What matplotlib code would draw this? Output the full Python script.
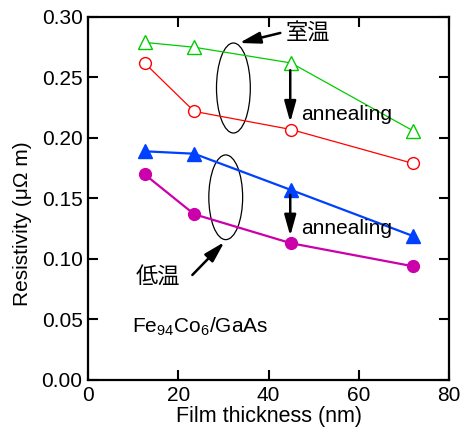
import matplotlib.pyplot as plt
from matplotlib.patches import Ellipse

plt.rcParams['font.family'] = ['Liberation Sans', 'Noto Sans CJK JP', 'DejaVu Sans']
plt.rcParams['mathtext.fontset'] = 'custom'
plt.rcParams['mathtext.rm'] = 'Liberation Sans'

# data
thickness = [12.5, 23.5, 45, 72]
rt_asdep = [0.279, 0.275, 0.262, 0.206]     # 室温, green open triangles
rt_anneal = [0.262, 0.222, 0.207, 0.179]    # 室温 annealed, red open circles
lt_asdep = [0.189, 0.187, 0.157, 0.119]     # 低温, blue filled triangles
lt_anneal = [0.170, 0.137, 0.113, 0.094]    # 低温 annealed, magenta filled circles

xticks = [0, 20, 40, 60, 80]
yticks = [0.00, 0.05, 0.10, 0.15, 0.20, 0.25, 0.30]

fig = plt.figure(figsize=(4.64, 4.4), dpi=100)
ax = fig.add_axes([0.19, 0.1364, 0.7777, 0.825])

ax.plot(thickness, rt_asdep, '-^', color='#00cc00', lw=0.9, ms=10,
        mfc='white', mec='#00cc00', mew=1.0)
ax.plot(thickness, rt_anneal, '-o', color='#ff0000', lw=0.9, ms=8.5,
        mfc='white', mec='#ff0000', mew=1.0)
ax.plot(thickness, lt_asdep, '-^', color='#0040ff', lw=1.6, ms=10)
ax.plot(thickness, lt_anneal, '-o', color='#cc00aa', lw=1.6, ms=8.5)

ax.set_xlim(0, 80)
ax.set_ylim(0, 0.30)
ax.set_xticks(xticks)
ax.set_yticks(yticks)
ax.set_yticklabels(['%.2f' % v for v in yticks])
ax.tick_params(direction='in', length=7, width=1.5, labelsize=15,
               top=True, right=True, pad=4)
for s in ax.spines.values():
    s.set_linewidth(1.6)

ax.set_xlabel('Film thickness (nm)', fontsize=15.5, labelpad=1)
ax.set_ylabel('Resistivity (\u03bc\u03a9 m)', fontsize=15, labelpad=1)
ax.yaxis.set_label_coords(-0.155, 0.43)

# ellipses grouping the pairs
ax.add_patch(Ellipse((32.2, 0.2413), 7.5, 0.0744, fill=False, lw=0.9, ec='black'))
ax.add_patch(Ellipse((30.5, 0.151), 7.5, 0.070, fill=False, lw=0.9, ec='black'))

arr = dict(arrowstyle='-|>,head_length=0.9,head_width=0.25', color='black',
           lw=1.8, mutation_scale=14, shrinkA=0, shrinkB=0)
ax.annotate('', xy=(33.5, 0.2785), xytext=(42.6, 0.2868), arrowprops=arr)
ax.text(43.8, 0.2868, '室温', fontsize=16, va='center', ha='left')
ax.annotate('', xy=(30.2, 0.114), xytext=(23.1, 0.0868), arrowprops=arr)
ax.text(10.6, 0.085, '低温', fontsize=16, va='center', ha='left')

ax.annotate('', xy=(44.8, 0.213), xytext=(44.8, 0.256), arrowprops=arr)
ax.text(47.2, 0.219, 'annealing', fontsize=15, va='center', ha='left')
ax.annotate('', xy=(44.8, 0.119), xytext=(44.8, 0.153), arrowprops=arr)
ax.text(47.2, 0.1256, 'annealing', fontsize=15, va='center', ha='left')

ax.text(9.8, 0.0438, r'Fe$_{94}$Co$_{6}$/GaAs', fontsize=15, va='center', ha='left')

fig.savefig('out.png', dpi=100)
